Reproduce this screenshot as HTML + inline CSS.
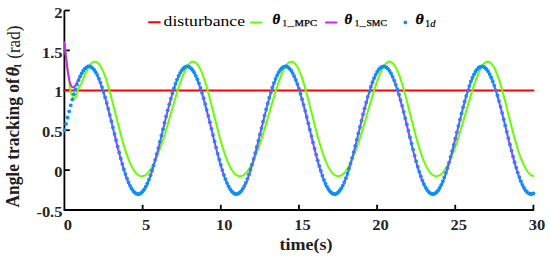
<!DOCTYPE html>
<html><head><meta charset="utf-8"><style>
html,body{margin:0;padding:0;background:#fff;width:550px;height:257px;overflow:hidden}
svg{display:block}
.tl{font-family:"Liberation Serif",serif;font-weight:bold;font-size:15px;fill:#262626}
.al{font-family:"Liberation Serif",serif;font-weight:bold;font-size:16.8px;fill:#202020}
.lg{font-family:"Liberation Serif",serif;font-size:14.5px;fill:#000}
</style></head><body>
<svg width="550" height="257" viewBox="0 0 550 257">
<rect width="550" height="257" fill="#fff"/>
<g stroke="#000" stroke-width="1.8" fill="none">
<polyline points="64.4,10.5 64.4,210 534,210"/>
<line x1="64.5" y1="10.50" x2="69.8" y2="10.50"/><line x1="64.5" y1="50.40" x2="69.8" y2="50.40"/><line x1="64.5" y1="90.30" x2="69.8" y2="90.30"/><line x1="64.5" y1="130.20" x2="69.8" y2="130.20"/><line x1="64.5" y1="170.10" x2="69.8" y2="170.10"/><line x1="142.65" y1="210" x2="142.65" y2="204.8"/><line x1="220.80" y1="210" x2="220.80" y2="204.8"/><line x1="298.95" y1="210" x2="298.95" y2="204.8"/><line x1="377.10" y1="210" x2="377.10" y2="204.8"/><line x1="455.25" y1="210" x2="455.25" y2="204.8"/><line x1="533.40" y1="210" x2="533.40" y2="204.8"/>
</g>
<line x1="64.00" y1="90.50" x2="533.40" y2="90.50" stroke="#ff0000" stroke-width="2" stroke-linecap="round"/>
<path d="M64.50,42.42 L64.81,45.12 L65.13,48.02 L65.44,51.02 L65.75,54.03 L66.06,56.95 L66.38,59.72 L66.69,62.35 L67.00,64.88 L67.31,67.28 L67.63,69.44 L67.94,71.35 L68.25,73.27 L68.56,75.57 L68.88,78.31 L69.19,81.24 L69.50,84.14 L69.81,86.75 L70.13,88.97 L70.44,90.73 L70.75,92.06 L71.06,93.09 L71.38,93.94 L71.69,94.72 L72.00,95.45 L72.31,96.12 L72.63,96.72 L72.94,97.24 L73.25,97.66 L73.57,97.98 L73.88,98.19 L74.19,98.28 L74.50,98.24 L74.82,98.08 L75.13,97.79 L75.44,97.37 L75.75,96.82 L76.07,96.13 L76.38,95.32 L76.69,94.36 L77.00,93.28 L77.32,92.11 L77.63,90.94 L77.94,89.86 L78.25,88.93 L78.57,88.14 L78.88,87.46 L79.19,86.87 L79.50,86.35 L79.82,85.89 L80.13,85.45 L80.44,85.01 L80.76,84.56 L81.07,84.07 L81.38,83.52 L81.69,82.89 L82.01,82.16 L82.32,81.36 L82.63,80.51 L82.94,79.64 L83.26,78.77 L83.57,77.94 L83.88,77.14 L84.19,76.37 L84.51,75.62 L84.82,74.89 L85.13,74.16 L85.44,73.43 L85.76,72.73 L86.07,72.04 L86.38,71.37 L86.69,70.71 L87.01,70.08 L87.32,69.46 L87.63,68.86 L87.94,68.29 L88.26,67.73 L88.57,67.20 L88.88,66.68 L89.20,66.20 L89.51,65.73 L89.82,65.28 L90.13,64.87 L90.45,64.47 L90.76,64.10 L91.07,63.75 L91.38,63.43 L91.70,63.14 L92.01,62.87 L92.32,62.63 L92.63,62.41 L92.95,62.22 L93.26,62.06 L93.57,61.93 L93.88,61.82 L94.20,61.74 L94.51,61.69 L94.82,61.67 L95.13,61.68 L95.45,61.71 L95.76,61.78 L96.07,61.87 L96.39,61.99 L96.70,62.14 L97.01,62.32 L97.32,62.52 L97.64,62.76 L97.95,63.03 L98.26,63.32 L98.57,63.64 L98.89,63.99 L99.20,64.37 L99.51,64.78 L99.82,65.21 L100.14,65.68 L100.45,66.17 L100.76,66.68 L101.07,67.23 L101.39,67.80 L101.70,68.40 L102.01,69.03 L102.32,69.68 L102.64,70.35 L102.95,71.06 L103.26,71.78 L103.58,72.54 L103.89,73.31 L104.20,74.11 L104.51,74.93 L104.83,75.78 L105.14,76.65 L105.45,77.53 L105.76,78.44 L106.08,79.38 L106.39,80.33 L106.70,81.30 L107.01,82.29 L107.33,83.29 L107.64,84.32 L107.95,85.36 L108.26,86.42 L108.58,87.49 L108.89,88.58 L109.20,89.69 L109.51,90.81 L109.83,91.94 L110.14,93.08 L110.45,94.24 L110.76,95.40 L111.08,96.58 L111.39,97.77 L111.70,98.97 L112.02,100.17 L112.33,101.38 L112.64,102.60 L112.95,103.83 L113.27,105.06 L113.58,106.29 L113.89,107.53 L114.20,108.78 L114.52,110.02 L114.83,111.27 L115.14,112.52 L115.45,113.77 L115.77,115.02 L116.08,116.27 L116.39,117.52 L116.70,118.77 L117.02,120.01 L117.33,121.25 L117.64,122.49 L117.95,123.72 L118.27,124.95 L118.58,126.17 L118.89,127.38 L119.21,128.59 L119.52,129.80 L119.83,130.99 L120.14,132.17 L120.46,133.35 L120.77,134.52 L121.08,135.67 L121.39,136.82 L121.71,137.96 L122.02,139.08 L122.33,140.19 L122.64,141.29 L122.96,142.38 L123.27,143.46 L123.58,144.52 L123.89,145.57 L124.21,146.60 L124.52,147.62 L124.83,148.62 L125.14,149.61 L125.46,150.59 L125.77,151.54 L126.08,152.49 L126.39,153.41 L126.71,154.32 L127.02,155.21 L127.33,156.09 L127.65,156.95 L127.96,157.79 L128.27,158.61 L128.58,159.42 L128.90,160.20 L129.21,160.97 L129.52,161.72 L129.83,162.46 L130.15,163.17 L130.46,163.87 L130.77,164.54 L131.08,165.20 L131.40,165.84 L131.71,166.46 L132.02,167.06 L132.33,167.64 L132.65,168.20 L132.96,168.75 L133.27,169.27 L133.58,169.78 L133.90,170.26 L134.21,170.73 L134.52,171.18 L134.84,171.60 L135.15,172.01 L135.46,172.40 L135.77,172.77 L136.09,173.12 L136.40,173.45 L136.71,173.76 L137.02,174.05 L137.34,174.33 L137.65,174.58 L137.96,174.82 L138.27,175.03 L138.59,175.23 L138.90,175.41 L139.21,175.57 L139.52,175.71 L139.84,175.83 L140.15,175.93 L140.46,176.02 L140.77,176.09 L141.09,176.13 L141.40,176.16 L141.71,176.17 L142.02,176.17 L142.34,176.14 L142.65,176.10 L142.96,176.04 L143.28,175.96 L143.59,175.86 L143.90,175.75 L144.21,175.61 L144.53,175.46 L144.84,175.30 L145.15,175.11 L145.46,174.91 L145.78,174.69 L146.09,174.46 L146.40,174.20 L146.71,173.94 L147.03,173.65 L147.34,173.35 L147.65,173.03 L147.96,172.69 L148.28,172.34 L148.59,171.97 L148.90,171.59 L149.21,171.19 L149.53,170.77 L149.84,170.34 L150.15,169.90 L150.47,169.43 L150.78,168.96 L151.09,168.46 L151.40,167.95 L151.72,167.43 L152.03,166.89 L152.34,166.34 L152.65,165.77 L152.97,165.19 L153.28,164.60 L153.59,163.99 L153.90,163.36 L154.22,162.72 L154.53,162.07 L154.84,161.41 L155.15,160.73 L155.47,160.04 L155.78,159.33 L156.09,158.61 L156.40,157.88 L156.72,157.14 L157.03,156.38 L157.34,155.61 L157.65,154.83 L157.97,154.04 L158.28,153.24 L158.59,152.42 L158.91,151.59 L159.22,150.75 L159.53,149.90 L159.84,149.04 L160.16,148.17 L160.47,147.29 L160.78,146.39 L161.09,145.49 L161.41,144.58 L161.72,143.66 L162.03,142.73 L162.34,141.79 L162.66,140.84 L162.97,139.88 L163.28,138.91 L163.59,137.94 L163.91,136.95 L164.22,135.96 L164.53,134.96 L164.84,133.96 L165.16,132.95 L165.47,131.93 L165.78,130.90 L166.09,129.87 L166.41,128.83 L166.72,127.79 L167.03,126.74 L167.35,125.69 L167.66,124.63 L167.97,123.57 L168.28,122.50 L168.60,121.43 L168.91,120.36 L169.22,119.29 L169.53,118.21 L169.85,117.13 L170.16,116.05 L170.47,114.96 L170.78,113.88 L171.10,112.79 L171.41,111.71 L171.72,110.62 L172.03,109.54 L172.35,108.45 L172.66,107.37 L172.97,106.29 L173.28,105.21 L173.60,104.13 L173.91,103.06 L174.22,101.99 L174.54,100.92 L174.85,99.86 L175.16,98.80 L175.47,97.75 L175.79,96.70 L176.10,95.66 L176.41,94.63 L176.72,93.60 L177.04,92.58 L177.35,91.57 L177.66,90.57 L177.97,89.57 L178.29,88.59 L178.60,87.61 L178.91,86.65 L179.22,85.69 L179.54,84.75 L179.85,83.82 L180.16,82.90 L180.47,82.00 L180.79,81.10 L181.10,80.23 L181.41,79.36 L181.73,78.51 L182.04,77.68 L182.35,76.86 L182.66,76.06 L182.98,75.28 L183.29,74.51 L183.60,73.76 L183.91,73.03 L184.23,72.32 L184.54,71.62 L184.85,70.95 L185.16,70.30 L185.48,69.66 L185.79,69.05 L186.10,68.46 L186.41,67.89 L186.73,67.35 L187.04,66.83 L187.35,66.33 L187.66,65.85 L187.98,65.40 L188.29,64.97 L188.60,64.57 L188.91,64.19 L189.23,63.83 L189.54,63.51 L189.85,63.21 L190.17,62.93 L190.48,62.68 L190.79,62.46 L191.10,62.27 L191.42,62.10 L191.73,61.96 L192.04,61.85 L192.35,61.76 L192.67,61.71 L192.98,61.68 L193.29,61.68 L193.60,61.71 L193.92,61.77 L194.23,61.86 L194.54,61.97 L194.85,62.12 L195.17,62.29 L195.48,62.49 L195.79,62.72 L196.10,62.98 L196.42,63.27 L196.73,63.59 L197.04,63.93 L197.36,64.31 L197.67,64.71 L197.98,65.14 L198.29,65.60 L198.61,66.09 L198.92,66.60 L199.23,67.14 L199.54,67.71 L199.86,68.30 L200.17,68.93 L200.48,69.57 L200.79,70.25 L201.11,70.94 L201.42,71.67 L201.73,72.41 L202.04,73.19 L202.36,73.98 L202.67,74.80 L202.98,75.64 L203.29,76.51 L203.61,77.39 L203.92,78.30 L204.23,79.23 L204.54,80.17 L204.86,81.14 L205.17,82.13 L205.48,83.13 L205.80,84.15 L206.11,85.19 L206.42,86.25 L206.73,87.32 L207.05,88.41 L207.36,89.51 L207.67,90.63 L207.98,91.76 L208.30,92.90 L208.61,94.05 L208.92,95.22 L209.23,96.39 L209.55,97.58 L209.86,98.77 L210.17,99.98 L210.48,101.19 L210.80,102.41 L211.11,103.63 L211.42,104.86 L211.73,106.10 L212.05,107.33 L212.36,108.58 L212.67,109.82 L212.99,111.07 L213.30,112.32 L213.61,113.57 L213.92,114.82 L214.24,116.07 L214.55,117.32 L214.86,118.57 L215.17,119.81 L215.49,121.05 L215.80,122.29 L216.11,123.52 L216.42,124.75 L216.74,125.97 L217.05,127.19 L217.36,128.40 L217.67,129.60 L217.99,130.80 L218.30,131.99 L218.61,133.16 L218.92,134.33 L219.24,135.49 L219.55,136.64 L219.86,137.78 L220.17,138.90 L220.49,140.02 L220.80,141.12 L221.11,142.21 L221.43,143.29 L221.74,144.35 L222.05,145.40 L222.36,146.44 L222.68,147.46 L222.99,148.46 L223.30,149.46 L223.61,150.43 L223.93,151.39 L224.24,152.34 L224.55,153.27 L224.86,154.18 L225.18,155.07 L225.49,155.95 L225.80,156.81 L226.11,157.65 L226.43,158.48 L226.74,159.29 L227.05,160.08 L227.36,160.85 L227.68,161.60 L227.99,162.34 L228.30,163.06 L228.62,163.76 L228.93,164.44 L229.24,165.10 L229.55,165.74 L229.87,166.36 L230.18,166.97 L230.49,167.55 L230.80,168.12 L231.12,168.66 L231.43,169.19 L231.74,169.70 L232.05,170.19 L232.37,170.66 L232.68,171.11 L232.99,171.54 L233.30,171.95 L233.62,172.34 L233.93,172.71 L234.24,173.07 L234.55,173.40 L234.87,173.71 L235.18,174.01 L235.49,174.29 L235.80,174.54 L236.12,174.78 L236.43,175.00 L236.74,175.20 L237.06,175.38 L237.37,175.54 L237.68,175.69 L237.99,175.81 L238.31,175.92 L238.62,176.01 L238.93,176.08 L239.24,176.13 L239.56,176.16 L239.87,176.17 L240.18,176.17 L240.49,176.15 L240.81,176.11 L241.12,176.05 L241.43,175.97 L241.74,175.88 L242.06,175.77 L242.37,175.64 L242.68,175.49 L242.99,175.33 L243.31,175.14 L243.62,174.94 L243.93,174.73 L244.25,174.50 L244.56,174.25 L244.87,173.98 L245.18,173.70 L245.50,173.40 L245.81,173.08 L246.12,172.75 L246.43,172.40 L246.75,172.03 L247.06,171.65 L247.37,171.25 L247.68,170.84 L248.00,170.41 L248.31,169.97 L248.62,169.51 L248.93,169.03 L249.25,168.54 L249.56,168.04 L249.87,167.52 L250.18,166.98 L250.50,166.43 L250.81,165.87 L251.12,165.29 L251.43,164.69 L251.75,164.08 L252.06,163.46 L252.37,162.83 L252.69,162.18 L253.00,161.51 L253.31,160.84 L253.62,160.15 L253.94,159.44 L254.25,158.73 L254.56,158.00 L254.87,157.26 L255.19,156.50 L255.50,155.74 L255.81,154.96 L256.12,154.17 L256.44,153.36 L256.75,152.55 L257.06,151.72 L257.37,150.89 L257.69,150.04 L258.00,149.18 L258.31,148.31 L258.62,147.43 L258.94,146.54 L259.25,145.64 L259.56,144.73 L259.88,143.81 L260.19,142.88 L260.50,141.94 L260.81,140.99 L261.13,140.03 L261.44,139.07 L261.75,138.09 L262.06,137.11 L262.38,136.12 L262.69,135.12 L263.00,134.12 L263.31,133.11 L263.63,132.09 L263.94,131.06 L264.25,130.03 L264.56,129.00 L264.88,127.96 L265.19,126.91 L265.50,125.86 L265.81,124.80 L266.13,123.74 L266.44,122.67 L266.75,121.61 L267.06,120.53 L267.38,119.46 L267.69,118.38 L268.00,117.30 L268.32,116.22 L268.63,115.14 L268.94,114.05 L269.25,112.97 L269.57,111.88 L269.88,110.80 L270.19,109.71 L270.50,108.63 L270.82,107.54 L271.13,106.46 L271.44,105.38 L271.75,104.30 L272.07,103.23 L272.38,102.16 L272.69,101.09 L273.00,100.03 L273.32,98.97 L273.63,97.92 L273.94,96.87 L274.25,95.83 L274.57,94.79 L274.88,93.76 L275.19,92.74 L275.50,91.73 L275.82,90.72 L276.13,89.73 L276.44,88.74 L276.76,87.77 L277.07,86.80 L277.38,85.84 L277.69,84.90 L278.01,83.97 L278.32,83.05 L278.63,82.14 L278.94,81.24 L279.26,80.36 L279.57,79.50 L279.88,78.65 L280.19,77.81 L280.51,76.99 L280.82,76.19 L281.13,75.40 L281.44,74.63 L281.76,73.88 L282.07,73.14 L282.38,72.43 L282.69,71.73 L283.01,71.06 L283.32,70.40 L283.63,69.76 L283.95,69.15 L284.26,68.56 L284.57,67.98 L284.88,67.43 L285.20,66.91 L285.51,66.40 L285.82,65.92 L286.13,65.47 L286.45,65.04 L286.76,64.63 L287.07,64.25 L287.38,63.89 L287.70,63.56 L288.01,63.25 L288.32,62.97 L288.63,62.72 L288.95,62.49 L289.26,62.30 L289.57,62.12 L289.88,61.98 L290.20,61.86 L290.51,61.78 L290.82,61.72 L291.13,61.68 L291.45,61.68 L291.76,61.70 L292.07,61.76 L292.39,61.84 L292.70,61.95 L293.01,62.09 L293.32,62.26 L293.64,62.46 L293.95,62.68 L294.26,62.94 L294.57,63.22 L294.89,63.54 L295.20,63.88 L295.51,64.25 L295.82,64.65 L296.14,65.07 L296.45,65.53 L296.76,66.01 L297.07,66.52 L297.39,67.05 L297.70,67.62 L298.01,68.21 L298.32,68.82 L298.64,69.47 L298.95,70.14 L299.26,70.83 L299.58,71.55 L299.89,72.29 L300.20,73.06 L300.51,73.85 L300.83,74.67 L301.14,75.51 L301.45,76.37 L301.76,77.25 L302.08,78.15 L302.39,79.08 L302.70,80.02 L303.01,80.99 L303.33,81.97 L303.64,82.97 L303.95,83.99 L304.26,85.03 L304.58,86.08 L304.89,87.15 L305.20,88.24 L305.51,89.34 L305.83,90.45 L306.14,91.58 L306.45,92.72 L306.76,93.87 L307.08,95.03 L307.39,96.21 L307.70,97.39 L308.02,98.58 L308.33,99.79 L308.64,100.99 L308.95,102.21 L309.27,103.44 L309.58,104.66 L309.89,105.90 L310.20,107.14 L310.52,108.38 L310.83,109.62 L311.14,110.87 L311.45,112.12 L311.77,113.37 L312.08,114.62 L312.39,115.87 L312.70,117.12 L313.02,118.37 L313.33,119.61 L313.64,120.86 L313.95,122.09 L314.27,123.33 L314.58,124.56 L314.89,125.78 L315.21,127.00 L315.52,128.21 L315.83,129.41 L316.14,130.61 L316.46,131.80 L316.77,132.98 L317.08,134.15 L317.39,135.31 L317.71,136.46 L318.02,137.60 L318.33,138.72 L318.64,139.84 L318.96,140.95 L319.27,142.04 L319.58,143.12 L319.89,144.18 L320.21,145.23 L320.52,146.27 L320.83,147.30 L321.14,148.31 L321.46,149.30 L321.77,150.28 L322.08,151.24 L322.40,152.19 L322.71,153.12 L323.02,154.03 L323.33,154.93 L323.65,155.81 L323.96,156.67 L324.27,157.52 L324.58,158.35 L324.90,159.16 L325.21,159.95 L325.52,160.73 L325.83,161.49 L326.15,162.22 L326.46,162.94 L326.77,163.65 L327.08,164.33 L327.40,164.99 L327.71,165.64 L328.02,166.26 L328.33,166.87 L328.65,167.46 L328.96,168.03 L329.27,168.58 L329.58,169.11 L329.90,169.62 L330.21,170.11 L330.52,170.58 L330.84,171.03 L331.15,171.47 L331.46,171.88 L331.77,172.28 L332.09,172.65 L332.40,173.01 L332.71,173.35 L333.02,173.67 L333.34,173.96 L333.65,174.24 L333.96,174.50 L334.27,174.75 L334.59,174.97 L334.90,175.17 L335.21,175.35 L335.52,175.52 L335.84,175.67 L336.15,175.79 L336.46,175.90 L336.77,175.99 L337.09,176.07 L337.40,176.12 L337.71,176.16 L338.03,176.17 L338.34,176.17 L338.65,176.15 L338.96,176.11 L339.28,176.06 L339.59,175.98 L339.90,175.89 L340.21,175.78 L340.53,175.66 L340.84,175.51 L341.15,175.35 L341.46,175.17 L341.78,174.98 L342.09,174.76 L342.40,174.53 L342.71,174.29 L343.03,174.02 L343.34,173.74 L343.65,173.45 L343.96,173.13 L344.28,172.80 L344.59,172.45 L344.90,172.09 L345.21,171.71 L345.53,171.32 L345.84,170.91 L346.15,170.48 L346.47,170.04 L346.78,169.58 L347.09,169.11 L347.40,168.62 L347.72,168.12 L348.03,167.60 L348.34,167.07 L348.65,166.52 L348.97,165.96 L349.28,165.38 L349.59,164.79 L349.90,164.18 L350.22,163.56 L350.53,162.93 L350.84,162.28 L351.15,161.62 L351.47,160.95 L351.78,160.26 L352.09,159.56 L352.40,158.84 L352.72,158.12 L353.03,157.38 L353.34,156.62 L353.66,155.86 L353.97,155.08 L354.28,154.29 L354.59,153.49 L354.91,152.68 L355.22,151.86 L355.53,151.02 L355.84,150.17 L356.16,149.32 L356.47,148.45 L356.78,147.57 L357.09,146.68 L357.41,145.78 L357.72,144.87 L358.03,143.95 L358.34,143.02 L358.66,142.09 L358.97,141.14 L359.28,140.18 L359.59,139.22 L359.91,138.25 L360.22,137.27 L360.53,136.28 L360.84,135.28 L361.16,134.28 L361.47,133.27 L361.78,132.25 L362.10,131.23 L362.41,130.20 L362.72,129.16 L363.03,128.12 L363.35,127.08 L363.66,126.02 L363.97,124.97 L364.28,123.91 L364.60,122.84 L364.91,121.78 L365.22,120.70 L365.53,119.63 L365.85,118.55 L366.16,117.47 L366.47,116.39 L366.78,115.31 L367.10,114.22 L367.41,113.14 L367.72,112.05 L368.03,110.97 L368.35,109.88 L368.66,108.80 L368.97,107.71 L369.29,106.63 L369.60,105.55 L369.91,104.48 L370.22,103.40 L370.54,102.33 L370.85,101.26 L371.16,100.20 L371.47,99.14 L371.79,98.08 L372.10,97.04 L372.41,95.99 L372.72,94.96 L373.04,93.93 L373.35,92.90 L373.66,91.89 L373.97,90.88 L374.29,89.89 L374.60,88.90 L374.91,87.92 L375.22,86.95 L375.54,85.99 L375.85,85.05 L376.16,84.11 L376.47,83.19 L376.79,82.28 L377.10,81.39 L377.41,80.50 L377.73,79.64 L378.04,78.78 L378.35,77.94 L378.66,77.12 L378.98,76.31 L379.29,75.52 L379.60,74.75 L379.91,74.00 L380.23,73.26 L380.54,72.54 L380.85,71.84 L381.16,71.16 L381.48,70.50 L381.79,69.86 L382.10,69.25 L382.41,68.65 L382.73,68.07 L383.04,67.52 L383.35,66.99 L383.66,66.48 L383.98,66.00 L384.29,65.54 L384.60,65.10 L384.92,64.69 L385.23,64.31 L385.54,63.94 L385.85,63.61 L386.17,63.30 L386.48,63.02 L386.79,62.76 L387.10,62.53 L387.42,62.33 L387.73,62.15 L388.04,62.00 L388.35,61.88 L388.67,61.79 L388.98,61.72 L389.29,61.69 L389.60,61.68 L389.92,61.70 L390.23,61.75 L390.54,61.83 L390.85,61.93 L391.17,62.07 L391.48,62.23 L391.79,62.42 L392.10,62.65 L392.42,62.90 L392.73,63.18 L393.04,63.49 L393.36,63.82 L393.67,64.19 L393.98,64.58 L394.29,65.00 L394.61,65.45 L394.92,65.93 L395.23,66.43 L395.54,66.97 L395.86,67.53 L396.17,68.11 L396.48,68.72 L396.79,69.36 L397.11,70.03 L397.42,70.72 L397.73,71.43 L398.04,72.17 L398.36,72.94 L398.67,73.73 L398.98,74.54 L399.29,75.37 L399.61,76.23 L399.92,77.11 L400.23,78.01 L400.55,78.93 L400.86,79.87 L401.17,80.83 L401.48,81.81 L401.80,82.81 L402.11,83.83 L402.42,84.86 L402.73,85.91 L403.05,86.98 L403.36,88.06 L403.67,89.16 L403.98,90.27 L404.30,91.40 L404.61,92.53 L404.92,93.68 L405.23,94.85 L405.55,96.02 L405.86,97.20 L406.17,98.39 L406.48,99.59 L406.80,100.80 L407.11,102.02 L407.42,103.24 L407.73,104.47 L408.05,105.70 L408.36,106.94 L408.67,108.18 L408.99,109.43 L409.30,110.67 L409.61,111.92 L409.92,113.17 L410.24,114.42 L410.55,115.67 L410.86,116.92 L411.17,118.17 L411.49,119.42 L411.80,120.66 L412.11,121.90 L412.42,123.13 L412.74,124.36 L413.05,125.59 L413.36,126.80 L413.67,128.02 L413.99,129.22 L414.30,130.42 L414.61,131.61 L414.92,132.79 L415.24,133.96 L415.55,135.12 L415.86,136.27 L416.18,137.42 L416.49,138.55 L416.80,139.66 L417.11,140.77 L417.43,141.86 L417.74,142.95 L418.05,144.01 L418.36,145.07 L418.68,146.11 L418.99,147.13 L419.30,148.15 L419.61,149.14 L419.93,150.12 L420.24,151.09 L420.55,152.04 L420.86,152.97 L421.18,153.89 L421.49,154.79 L421.80,155.67 L422.11,156.54 L422.43,157.39 L422.74,158.22 L423.05,159.03 L423.36,159.83 L423.68,160.61 L423.99,161.37 L424.30,162.11 L424.62,162.83 L424.93,163.54 L425.24,164.22 L425.55,164.89 L425.87,165.54 L426.18,166.16 L426.49,166.77 L426.80,167.37 L427.12,167.94 L427.43,168.49 L427.74,169.02 L428.05,169.54 L428.37,170.03 L428.68,170.51 L428.99,170.96 L429.30,171.40 L429.62,171.82 L429.93,172.22 L430.24,172.60 L430.55,172.95 L430.87,173.29 L431.18,173.62 L431.49,173.92 L431.81,174.20 L432.12,174.46 L432.43,174.71 L432.74,174.93 L433.06,175.14 L433.37,175.33 L433.68,175.50 L433.99,175.64 L434.31,175.78 L434.62,175.89 L434.93,175.98 L435.24,176.06 L435.56,176.11 L435.87,176.15 L436.18,176.17 L436.49,176.17 L436.81,176.16 L437.12,176.12 L437.43,176.07 L437.74,176.00 L438.06,175.91 L438.37,175.80 L438.68,175.68 L438.99,175.54 L439.31,175.38 L439.62,175.20 L439.93,175.01 L440.25,174.80 L440.56,174.57 L440.87,174.33 L441.18,174.07 L441.50,173.79 L441.81,173.49 L442.12,173.18 L442.43,172.85 L442.75,172.51 L443.06,172.15 L443.37,171.77 L443.68,171.38 L444.00,170.97 L444.31,170.55 L444.62,170.11 L444.93,169.66 L445.25,169.19 L445.56,168.70 L445.87,168.20 L446.18,167.68 L446.50,167.15 L446.81,166.61 L447.12,166.05 L447.44,165.47 L447.75,164.88 L448.06,164.28 L448.37,163.66 L448.69,163.03 L449.00,162.39 L449.31,161.73 L449.62,161.05 L449.94,160.37 L450.25,159.67 L450.56,158.96 L450.87,158.23 L451.19,157.50 L451.50,156.74 L451.81,155.98 L452.12,155.21 L452.44,154.42 L452.75,153.62 L453.06,152.81 L453.37,151.99 L453.69,151.15 L454.00,150.31 L454.31,149.45 L454.62,148.59 L454.94,147.71 L455.25,146.82 L455.56,145.92 L455.88,145.02 L456.19,144.10 L456.50,143.17 L456.81,142.24 L457.13,141.29 L457.44,140.34 L457.75,139.37 L458.06,138.40 L458.38,137.42 L458.69,136.44 L459.00,135.44 L459.31,134.44 L459.63,133.43 L459.94,132.41 L460.25,131.39 L460.56,130.36 L460.88,129.33 L461.19,128.29 L461.50,127.24 L461.81,126.19 L462.13,125.14 L462.44,124.08 L462.75,123.01 L463.06,121.95 L463.38,120.88 L463.69,119.80 L464.00,118.72 L464.32,117.65 L464.63,116.56 L464.94,115.48 L465.25,114.40 L465.57,113.31 L465.88,112.23 L466.19,111.14 L466.50,110.06 L466.82,108.97 L467.13,107.89 L467.44,106.81 L467.75,105.72 L468.07,104.65 L468.38,103.57 L468.69,102.50 L469.00,101.43 L469.32,100.37 L469.63,99.31 L469.94,98.25 L470.25,97.20 L470.57,96.16 L470.88,95.12 L471.19,94.09 L471.51,93.07 L471.82,92.05 L472.13,91.04 L472.44,90.04 L472.76,89.06 L473.07,88.08 L473.38,87.11 L473.69,86.15 L474.01,85.20 L474.32,84.26 L474.63,83.34 L474.94,82.43 L475.26,81.53 L475.57,80.64 L475.88,79.77 L476.19,78.92 L476.51,78.08 L476.82,77.25 L477.13,76.44 L477.44,75.65 L477.76,74.87 L478.07,74.12 L478.38,73.38 L478.69,72.65 L479.01,71.95 L479.32,71.27 L479.63,70.61 L479.95,69.96 L480.26,69.34 L480.57,68.74 L480.88,68.16 L481.20,67.61 L481.51,67.07 L481.82,66.56 L482.13,66.07 L482.45,65.61 L482.76,65.17 L483.07,64.76 L483.38,64.37 L483.70,64.00 L484.01,63.66 L484.32,63.35 L484.63,63.06 L484.95,62.80 L485.26,62.56 L485.57,62.36 L485.88,62.18 L486.20,62.02 L486.51,61.90 L486.82,61.80 L487.14,61.73 L487.45,61.69 L487.76,61.68 L488.07,61.69 L488.39,61.74 L488.70,61.81 L489.01,61.91 L489.32,62.04 L489.64,62.20 L489.95,62.39 L490.26,62.61 L490.57,62.86 L490.89,63.13 L491.20,63.43 L491.51,63.77 L491.82,64.13 L492.14,64.52 L492.45,64.93 L492.76,65.38 L493.07,65.85 L493.39,66.35 L493.70,66.88 L494.01,67.43 L494.33,68.02 L494.64,68.63 L494.95,69.26 L495.26,69.92 L495.58,70.61 L495.89,71.32 L496.20,72.05 L496.51,72.81 L496.83,73.60 L497.14,74.41 L497.45,75.24 L497.76,76.09 L498.08,76.97 L498.39,77.86 L498.70,78.78 L499.01,79.72 L499.33,80.68 L499.64,81.65 L499.95,82.65 L500.26,83.66 L500.58,84.69 L500.89,85.74 L501.20,86.81 L501.51,87.89 L501.83,88.98 L502.14,90.09 L502.45,91.22 L502.77,92.35 L503.08,93.50 L503.39,94.66 L503.70,95.83 L504.02,97.01 L504.33,98.20 L504.64,99.40 L504.95,100.61 L505.27,101.82 L505.58,103.04 L505.89,104.27 L506.20,105.51 L506.52,106.74 L506.83,107.98 L507.14,109.23 L507.45,110.47 L507.77,111.72 L508.08,112.97 L508.39,114.22 L508.70,115.47 L509.02,116.72 L509.33,117.97 L509.64,119.22 L509.96,120.46 L510.27,121.70 L510.58,122.93 L510.89,124.17 L511.21,125.39 L511.52,126.61 L511.83,127.82 L512.14,129.03 L512.46,130.23 L512.77,131.42 L513.08,132.60 L513.39,133.78 L513.71,134.94 L514.02,136.09 L514.33,137.23 L514.64,138.37 L514.96,139.49 L515.27,140.60 L515.58,141.69 L515.89,142.77 L516.21,143.84 L516.52,144.90 L516.83,145.94 L517.14,146.97 L517.46,147.99 L517.77,148.98 L518.08,149.97 L518.40,150.94 L518.71,151.89 L519.02,152.82 L519.33,153.74 L519.65,154.65 L519.96,155.53 L520.27,156.40 L520.58,157.25 L520.90,158.09 L521.21,158.90 L521.52,159.70 L521.83,160.48 L522.15,161.25 L522.46,161.99 L522.77,162.72 L523.08,163.42 L523.40,164.11 L523.71,164.78 L524.02,165.43 L524.33,166.07 L524.65,166.68 L524.96,167.27 L525.27,167.85 L525.59,168.40 L525.90,168.94 L526.21,169.46 L526.52,169.95 L526.84,170.43 L527.15,170.89 L527.46,171.33 L527.77,171.75 L528.09,172.15 L528.40,172.54 L528.71,172.90 L529.02,173.24 L529.34,173.57 L529.65,173.87 L529.96,174.16 L530.27,174.42 L530.59,174.67 L530.90,174.90 L531.21,175.11 L531.52,175.30 L531.84,175.47 L532.15,175.62 L532.46,175.76 L532.77,175.87 L533.09,175.97 L533.40,176.05" fill="none" stroke="#66ff00" stroke-width="2" stroke-linejoin="round" stroke-linecap="round"/>
<path d="M64.50,42.42 L64.81,45.70 L65.13,48.91 L65.44,52.01 L65.75,55.02 L66.06,57.91 L66.38,60.67 L66.69,63.31 L67.00,65.82 L67.31,68.18 L67.63,70.40 L67.94,72.48 L68.25,74.41 L68.56,76.19 L68.88,77.82 L69.19,79.31 L69.50,80.66 L69.81,81.87 L70.13,82.94 L70.44,83.88 L70.75,84.69 L71.06,85.38 L71.38,85.95 L71.69,86.41 L72.00,86.76 L72.31,87.01 L72.63,87.16 L72.94,87.23 L73.25,87.21 L73.57,87.12 L73.88,86.96 L74.19,86.73 L74.50,86.45 L74.82,86.11 L75.13,85.72 L75.44,85.29 L75.75,84.82 L76.07,84.32 L76.38,83.79 L76.69,83.24 L77.00,82.66 L77.32,82.07 L77.63,81.47 L77.94,80.86 L78.25,80.24 L78.57,79.61 L78.88,78.99 L79.19,78.36 L79.50,77.74 L79.82,77.13 L80.13,76.52 L80.44,75.93 L80.76,75.34 L81.07,74.77 L81.38,74.21 L81.69,73.67 L82.01,73.14 L82.32,72.63 L82.63,72.14 L82.94,71.67 L83.26,71.21 L83.57,70.78 L83.88,70.37 L84.19,69.98 L84.51,69.62 L84.82,69.27 L85.13,68.95 L85.44,68.65 L85.76,68.38 L86.07,68.13 L86.38,67.91 L86.69,67.71 L87.01,67.53 L87.32,67.38 L87.63,67.25 L87.94,67.15 L88.26,67.07 L88.57,67.02 L88.88,67.00 L89.20,67.00 L89.51,67.02 L89.82,67.07 L90.13,67.15 L90.45,67.25 L90.76,67.38 L91.07,67.53 L91.38,67.71 L91.70,67.91 L92.01,68.14 L92.32,68.39 L92.63,68.67 L92.95,68.97 L93.26,69.30 L93.57,69.65 L93.88,70.03 L94.20,70.43 L94.51,70.85 L94.82,71.30 L95.13,71.77 L95.45,72.27 L95.76,72.79 L96.07,73.33 L96.39,73.90 L96.70,74.49 L97.01,75.10 L97.32,75.73 L97.64,76.39 L97.95,77.06 L98.26,77.76 L98.57,78.48 L98.89,79.22 L99.20,79.99 L99.51,80.77 L99.82,81.57 L100.14,82.39 L100.45,83.23 L100.76,84.09 L101.07,84.97 L101.39,85.87 L101.70,86.78 L102.01,87.72 L102.32,88.67 L102.64,89.63 L102.95,90.62 L103.26,91.62 L103.58,92.63 L103.89,93.66 L104.20,94.71 L104.51,95.77 L104.83,96.84 L105.14,97.93 L105.45,99.03 L105.76,100.14 L106.08,101.27 L106.39,102.41 L106.70,103.55 L107.01,104.71 L107.33,105.88 L107.64,107.06 L107.95,108.25 L108.26,109.45 L108.58,110.66 L108.89,111.88 L109.20,113.10 L109.51,114.33 L109.83,115.56 L110.14,116.81 L110.45,118.06 L110.76,119.31 L111.08,120.57 L111.39,121.83 L111.70,123.10 L112.02,124.36 L112.33,125.64 L112.64,126.91 L112.95,128.18 L113.27,129.46 L113.58,130.74 L113.89,132.01 L114.20,133.29 L114.52,134.57 L114.83,135.84 L115.14,137.11 L115.45,138.38 L115.77,139.65 L116.08,140.91 L116.39,142.17 L116.70,143.42 L117.02,144.67 L117.33,145.91 L117.64,147.15 L117.95,148.38 L118.27,149.61 L118.58,150.82 L118.89,152.03 L119.21,153.23 L119.52,154.42 L119.83,155.61 L120.14,156.78 L120.46,157.94 L120.77,159.09 L121.08,160.23 L121.39,161.36 L121.71,162.47 L122.02,163.57 L122.33,164.66 L122.64,165.74 L122.96,166.80 L123.27,167.85 L123.58,168.88 L123.89,169.90 L124.21,170.90 L124.52,171.89 L124.83,172.86 L125.14,173.81 L125.46,174.75 L125.77,175.66 L126.08,176.56 L126.39,177.45 L126.71,178.31 L127.02,179.15 L127.33,179.98 L127.65,180.78 L127.96,181.57 L128.27,182.33 L128.58,183.08 L128.90,183.80 L129.21,184.50 L129.52,185.18 L129.83,185.84 L130.15,186.48 L130.46,187.09 L130.77,187.69 L131.08,188.26 L131.40,188.80 L131.71,189.33 L132.02,189.83 L132.33,190.30 L132.65,190.76 L132.96,191.18 L133.27,191.59 L133.58,191.97 L133.90,192.32 L134.21,192.66 L134.52,192.96 L134.84,193.24 L135.15,193.50 L135.46,193.73 L135.77,193.94 L136.09,194.12 L136.40,194.28 L136.71,194.41 L137.02,194.51 L137.34,194.59 L137.65,194.64 L137.96,194.67 L138.27,194.68 L138.59,194.65 L138.90,194.61 L139.21,194.53 L139.52,194.43 L139.84,194.31 L140.15,194.16 L140.46,193.98 L140.77,193.78 L141.09,193.56 L141.40,193.31 L141.71,193.03 L142.02,192.73 L142.34,192.41 L142.65,192.06 L142.96,191.68 L143.28,191.28 L143.59,190.86 L143.90,190.41 L144.21,189.94 L144.53,189.45 L144.84,188.93 L145.15,188.39 L145.46,187.83 L145.78,187.24 L146.09,186.63 L146.40,186.00 L146.71,185.34 L147.03,184.67 L147.34,183.97 L147.65,183.25 L147.96,182.51 L148.28,181.75 L148.59,180.97 L148.90,180.17 L149.21,179.35 L149.53,178.51 L149.84,177.65 L150.15,176.78 L150.47,175.88 L150.78,174.97 L151.09,174.03 L151.40,173.09 L151.72,172.12 L152.03,171.14 L152.34,170.14 L152.65,169.13 L152.97,168.10 L153.28,167.05 L153.59,165.99 L153.90,164.92 L154.22,163.84 L154.53,162.74 L154.84,161.62 L155.15,160.50 L155.47,159.36 L155.78,158.21 L156.09,157.06 L156.40,155.89 L156.72,154.71 L157.03,153.52 L157.34,152.32 L157.65,151.11 L157.97,149.90 L158.28,148.68 L158.59,147.45 L158.91,146.21 L159.22,144.97 L159.53,143.72 L159.84,142.47 L160.16,141.21 L160.47,139.95 L160.78,138.68 L161.09,137.41 L161.41,136.14 L161.72,134.87 L162.03,133.59 L162.34,132.32 L162.66,131.04 L162.97,129.77 L163.28,128.49 L163.59,127.21 L163.91,125.94 L164.22,124.67 L164.53,123.40 L164.84,122.13 L165.16,120.87 L165.47,119.61 L165.78,118.35 L166.09,117.11 L166.41,115.86 L166.72,114.62 L167.03,113.39 L167.35,112.17 L167.66,110.95 L167.97,109.74 L168.28,108.54 L168.60,107.35 L168.91,106.17 L169.22,104.99 L169.53,103.83 L169.85,102.68 L170.16,101.54 L170.47,100.41 L170.78,99.29 L171.10,98.19 L171.41,97.10 L171.72,96.02 L172.03,94.96 L172.35,93.91 L172.66,92.88 L172.97,91.86 L173.28,90.85 L173.60,89.87 L173.91,88.90 L174.22,87.94 L174.54,87.01 L174.85,86.09 L175.16,85.18 L175.47,84.30 L175.79,83.44 L176.10,82.59 L176.41,81.76 L176.72,80.96 L177.04,80.17 L177.35,79.40 L177.66,78.66 L177.97,77.93 L178.29,77.23 L178.60,76.55 L178.91,75.89 L179.22,75.25 L179.54,74.63 L179.85,74.04 L180.16,73.46 L180.47,72.92 L180.79,72.39 L181.10,71.89 L181.41,71.41 L181.73,70.96 L182.04,70.53 L182.35,70.12 L182.66,69.74 L182.98,69.38 L183.29,69.05 L183.60,68.74 L183.91,68.45 L184.23,68.20 L184.54,67.96 L184.85,67.75 L185.16,67.57 L185.48,67.41 L185.79,67.28 L186.10,67.17 L186.41,67.09 L186.73,67.04 L187.04,67.00 L187.35,67.00 L187.66,67.02 L187.98,67.07 L188.29,67.14 L188.60,67.23 L188.91,67.36 L189.23,67.50 L189.54,67.68 L189.85,67.88 L190.17,68.10 L190.48,68.35 L190.79,68.62 L191.10,68.92 L191.42,69.24 L191.73,69.59 L192.04,69.96 L192.35,70.36 L192.67,70.78 L192.98,71.23 L193.29,71.70 L193.60,72.19 L193.92,72.70 L194.23,73.24 L194.54,73.81 L194.85,74.39 L195.17,75.00 L195.48,75.63 L195.79,76.28 L196.10,76.95 L196.42,77.65 L196.73,78.37 L197.04,79.10 L197.36,79.86 L197.67,80.64 L197.98,81.44 L198.29,82.26 L198.61,83.10 L198.92,83.95 L199.23,84.83 L199.54,85.72 L199.86,86.64 L200.17,87.57 L200.48,88.51 L200.79,89.48 L201.11,90.46 L201.42,91.46 L201.73,92.47 L202.04,93.50 L202.36,94.54 L202.67,95.60 L202.98,96.67 L203.29,97.75 L203.61,98.85 L203.92,99.96 L204.23,101.09 L204.54,102.22 L204.86,103.37 L205.17,104.53 L205.48,105.70 L205.80,106.88 L206.11,108.06 L206.42,109.26 L206.73,110.47 L207.05,111.68 L207.36,112.90 L207.67,114.13 L207.98,115.37 L208.30,116.61 L208.61,117.86 L208.92,119.11 L209.23,120.37 L209.55,121.63 L209.86,122.89 L210.17,124.16 L210.48,125.43 L210.80,126.71 L211.11,127.98 L211.42,129.26 L211.73,130.53 L212.05,131.81 L212.36,133.09 L212.67,134.36 L212.99,135.64 L213.30,136.91 L213.61,138.18 L213.92,139.44 L214.24,140.71 L214.55,141.97 L214.86,143.22 L215.17,144.47 L215.49,145.72 L215.80,146.96 L216.11,148.19 L216.42,149.41 L216.74,150.63 L217.05,151.84 L217.36,153.04 L217.67,154.23 L217.99,155.42 L218.30,156.59 L218.61,157.75 L218.92,158.91 L219.24,160.05 L219.55,161.18 L219.86,162.29 L220.17,163.40 L220.49,164.49 L220.80,165.57 L221.11,166.63 L221.43,167.68 L221.74,168.72 L222.05,169.74 L222.36,170.74 L222.68,171.73 L222.99,172.70 L223.30,173.66 L223.61,174.60 L223.93,175.52 L224.24,176.42 L224.55,177.31 L224.86,178.17 L225.18,179.02 L225.49,179.85 L225.80,180.66 L226.11,181.44 L226.43,182.21 L226.74,182.96 L227.05,183.69 L227.36,184.39 L227.68,185.08 L227.99,185.74 L228.30,186.38 L228.62,187.00 L228.93,187.59 L229.24,188.17 L229.55,188.72 L229.87,189.24 L230.18,189.75 L230.49,190.23 L230.80,190.68 L231.12,191.12 L231.43,191.53 L231.74,191.91 L232.05,192.27 L232.37,192.60 L232.68,192.92 L232.99,193.20 L233.30,193.46 L233.62,193.70 L233.93,193.91 L234.24,194.09 L234.55,194.25 L234.87,194.39 L235.18,194.50 L235.49,194.58 L235.80,194.64 L236.12,194.67 L236.43,194.68 L236.74,194.66 L237.06,194.62 L237.37,194.55 L237.68,194.45 L237.99,194.33 L238.31,194.18 L238.62,194.01 L238.93,193.82 L239.24,193.60 L239.56,193.35 L239.87,193.08 L240.18,192.78 L240.49,192.46 L240.81,192.11 L241.12,191.74 L241.43,191.35 L241.74,190.93 L242.06,190.49 L242.37,190.02 L242.68,189.53 L242.99,189.01 L243.31,188.48 L243.62,187.92 L243.93,187.33 L244.25,186.73 L244.56,186.10 L244.87,185.45 L245.18,184.78 L245.50,184.08 L245.81,183.37 L246.12,182.63 L246.43,181.87 L246.75,181.10 L247.06,180.30 L247.37,179.48 L247.68,178.65 L248.00,177.79 L248.31,176.92 L248.62,176.02 L248.93,175.11 L249.25,174.18 L249.56,173.24 L249.87,172.28 L250.18,171.30 L250.50,170.30 L250.81,169.29 L251.12,168.26 L251.43,167.22 L251.75,166.16 L252.06,165.09 L252.37,164.01 L252.69,162.91 L253.00,161.80 L253.31,160.68 L253.62,159.54 L253.94,158.40 L254.25,157.24 L254.56,156.07 L254.87,154.90 L255.19,153.71 L255.50,152.51 L255.81,151.31 L256.12,150.09 L256.44,148.87 L256.75,147.64 L257.06,146.41 L257.37,145.17 L257.69,143.92 L258.00,142.67 L258.31,141.41 L258.62,140.15 L258.94,138.88 L259.25,137.62 L259.56,136.35 L259.88,135.07 L260.19,133.80 L260.50,132.52 L260.81,131.25 L261.13,129.97 L261.44,128.69 L261.75,127.42 L262.06,126.14 L262.38,124.87 L262.69,123.60 L263.00,122.33 L263.31,121.07 L263.63,119.81 L263.94,118.55 L264.25,117.30 L264.56,116.06 L264.88,114.82 L265.19,113.59 L265.50,112.36 L265.81,111.14 L266.13,109.93 L266.44,108.73 L266.75,107.54 L267.06,106.35 L267.38,105.18 L267.69,104.01 L268.00,102.86 L268.32,101.72 L268.63,100.59 L268.94,99.47 L269.25,98.37 L269.57,97.27 L269.88,96.19 L270.19,95.13 L270.50,94.08 L270.82,93.04 L271.13,92.02 L271.44,91.01 L271.75,90.02 L272.07,89.05 L272.38,88.09 L272.69,87.15 L273.00,86.23 L273.32,85.33 L273.63,84.44 L273.94,83.57 L274.25,82.72 L274.57,81.89 L274.88,81.08 L275.19,80.29 L275.50,79.52 L275.82,78.78 L276.13,78.05 L276.44,77.34 L276.76,76.65 L277.07,75.99 L277.38,75.35 L277.69,74.73 L278.01,74.13 L278.32,73.55 L278.63,73.00 L278.94,72.47 L279.26,71.97 L279.57,71.49 L279.88,71.03 L280.19,70.59 L280.51,70.18 L280.82,69.80 L281.13,69.43 L281.44,69.10 L281.76,68.79 L282.07,68.50 L282.38,68.24 L282.69,68.00 L283.01,67.79 L283.32,67.60 L283.63,67.44 L283.95,67.30 L284.26,67.19 L284.57,67.10 L284.88,67.04 L285.20,67.01 L285.51,67.00 L285.82,67.02 L286.13,67.06 L286.45,67.12 L286.76,67.22 L287.07,67.34 L287.38,67.48 L287.70,67.65 L288.01,67.84 L288.32,68.06 L288.63,68.31 L288.95,68.58 L289.26,68.87 L289.57,69.19 L289.88,69.53 L290.20,69.90 L290.51,70.30 L290.82,70.71 L291.13,71.15 L291.45,71.62 L291.76,72.11 L292.07,72.62 L292.39,73.16 L292.70,73.71 L293.01,74.30 L293.32,74.90 L293.64,75.53 L293.95,76.18 L294.26,76.85 L294.57,77.54 L294.89,78.25 L295.20,78.99 L295.51,79.74 L295.82,80.52 L296.14,81.31 L296.45,82.13 L296.76,82.96 L297.07,83.82 L297.39,84.69 L297.70,85.58 L298.01,86.49 L298.32,87.42 L298.64,88.36 L298.95,89.32 L299.26,90.30 L299.58,91.30 L299.89,92.31 L300.20,93.33 L300.51,94.37 L300.83,95.43 L301.14,96.50 L301.45,97.58 L301.76,98.68 L302.08,99.79 L302.39,100.91 L302.70,102.04 L303.01,103.19 L303.33,104.34 L303.64,105.51 L303.95,106.69 L304.26,107.87 L304.58,109.07 L304.89,110.27 L305.20,111.49 L305.51,112.71 L305.83,113.94 L306.14,115.17 L306.45,116.41 L306.76,117.66 L307.08,118.91 L307.39,120.17 L307.70,121.43 L308.02,122.69 L308.33,123.96 L308.64,125.23 L308.95,126.50 L309.27,127.78 L309.58,129.05 L309.89,130.33 L310.20,131.61 L310.52,132.88 L310.83,134.16 L311.14,135.43 L311.45,136.71 L311.77,137.98 L312.08,139.24 L312.39,140.51 L312.70,141.77 L313.02,143.02 L313.33,144.27 L313.64,145.52 L313.95,146.76 L314.27,147.99 L314.58,149.22 L314.89,150.44 L315.21,151.65 L315.52,152.85 L315.83,154.05 L316.14,155.23 L316.46,156.40 L316.77,157.57 L317.08,158.72 L317.39,159.87 L317.71,161.00 L318.02,162.12 L318.33,163.22 L318.64,164.32 L318.96,165.40 L319.27,166.46 L319.58,167.52 L319.89,168.55 L320.21,169.58 L320.52,170.58 L320.83,171.58 L321.14,172.55 L321.46,173.51 L321.77,174.45 L322.08,175.37 L322.40,176.28 L322.71,177.17 L323.02,178.04 L323.33,178.89 L323.65,179.72 L323.96,180.53 L324.27,181.32 L324.58,182.09 L324.90,182.84 L325.21,183.57 L325.52,184.28 L325.83,184.97 L326.15,185.64 L326.46,186.28 L326.77,186.90 L327.08,187.50 L327.40,188.08 L327.71,188.63 L328.02,189.16 L328.33,189.67 L328.65,190.15 L328.96,190.61 L329.27,191.05 L329.58,191.46 L329.90,191.85 L330.21,192.21 L330.52,192.55 L330.84,192.87 L331.15,193.16 L331.46,193.42 L331.77,193.66 L332.09,193.88 L332.40,194.06 L332.71,194.23 L333.02,194.37 L333.34,194.48 L333.65,194.57 L333.96,194.63 L334.27,194.67 L334.59,194.68 L334.90,194.66 L335.21,194.62 L335.52,194.56 L335.84,194.47 L336.15,194.35 L336.46,194.21 L336.77,194.04 L337.09,193.85 L337.40,193.63 L337.71,193.39 L338.03,193.12 L338.34,192.83 L338.65,192.51 L338.96,192.17 L339.28,191.80 L339.59,191.41 L339.90,191.00 L340.21,190.56 L340.53,190.09 L340.84,189.61 L341.15,189.10 L341.46,188.56 L341.78,188.01 L342.09,187.43 L342.40,186.83 L342.71,186.20 L343.03,185.55 L343.34,184.89 L343.65,184.19 L343.96,183.48 L344.28,182.75 L344.59,182.00 L344.90,181.22 L345.21,180.43 L345.53,179.61 L345.84,178.78 L346.15,177.93 L346.47,177.06 L346.78,176.17 L347.09,175.26 L347.40,174.33 L347.72,173.39 L348.03,172.43 L348.34,171.45 L348.65,170.46 L348.97,169.45 L349.28,168.43 L349.59,167.39 L349.90,166.33 L350.22,165.26 L350.53,164.18 L350.84,163.09 L351.15,161.98 L351.47,160.86 L351.78,159.73 L352.09,158.58 L352.40,157.43 L352.72,156.26 L353.03,155.08 L353.34,153.90 L353.66,152.70 L353.97,151.50 L354.28,150.29 L354.59,149.07 L354.91,147.84 L355.22,146.61 L355.53,145.36 L355.84,144.12 L356.16,142.87 L356.47,141.61 L356.78,140.35 L357.09,139.09 L357.41,137.82 L357.72,136.55 L358.03,135.28 L358.34,134.00 L358.66,132.72 L358.97,131.45 L359.28,130.17 L359.59,128.90 L359.91,127.62 L360.22,126.34 L360.53,125.07 L360.84,123.80 L361.16,122.53 L361.47,121.27 L361.78,120.01 L362.10,118.75 L362.41,117.50 L362.72,116.26 L363.03,115.02 L363.35,113.78 L363.66,112.56 L363.97,111.34 L364.28,110.12 L364.60,108.92 L364.91,107.73 L365.22,106.54 L365.53,105.37 L365.85,104.20 L366.16,103.04 L366.47,101.90 L366.78,100.77 L367.10,99.65 L367.41,98.54 L367.72,97.45 L368.03,96.36 L368.35,95.30 L368.66,94.24 L368.97,93.20 L369.29,92.18 L369.60,91.17 L369.91,90.18 L370.22,89.20 L370.54,88.24 L370.85,87.30 L371.16,86.38 L371.47,85.47 L371.79,84.58 L372.10,83.71 L372.41,82.86 L372.72,82.03 L373.04,81.21 L373.35,80.42 L373.66,79.65 L373.97,78.89 L374.29,78.16 L374.60,77.45 L374.91,76.76 L375.22,76.09 L375.54,75.45 L375.85,74.82 L376.16,74.22 L376.47,73.64 L376.79,73.09 L377.10,72.56 L377.41,72.05 L377.73,71.56 L378.04,71.10 L378.35,70.66 L378.66,70.25 L378.98,69.86 L379.29,69.49 L379.60,69.15 L379.91,68.83 L380.23,68.54 L380.54,68.28 L380.85,68.03 L381.16,67.82 L381.48,67.63 L381.79,67.46 L382.10,67.32 L382.41,67.20 L382.73,67.11 L383.04,67.05 L383.35,67.01 L383.66,67.00 L383.98,67.01 L384.29,67.05 L384.60,67.11 L384.92,67.20 L385.23,67.32 L385.54,67.45 L385.85,67.62 L386.17,67.81 L386.48,68.03 L386.79,68.27 L387.10,68.53 L387.42,68.82 L387.73,69.14 L388.04,69.48 L388.35,69.84 L388.67,70.23 L388.98,70.65 L389.29,71.08 L389.60,71.54 L389.92,72.03 L390.23,72.54 L390.54,73.07 L390.85,73.62 L391.17,74.20 L391.48,74.80 L391.79,75.43 L392.10,76.07 L392.42,76.74 L392.73,77.43 L393.04,78.14 L393.36,78.87 L393.67,79.62 L393.98,80.39 L394.29,81.18 L394.61,82.00 L394.92,82.83 L395.23,83.68 L395.54,84.55 L395.86,85.44 L396.17,86.34 L396.48,87.27 L396.79,88.21 L397.11,89.17 L397.42,90.15 L397.73,91.14 L398.04,92.14 L398.36,93.17 L398.67,94.21 L398.98,95.26 L399.29,96.33 L399.61,97.41 L399.92,98.50 L400.23,99.61 L400.55,100.73 L400.86,101.86 L401.17,103.00 L401.48,104.16 L401.80,105.32 L402.11,106.50 L402.42,107.68 L402.73,108.88 L403.05,110.08 L403.36,111.29 L403.67,112.51 L403.98,113.74 L404.30,114.97 L404.61,116.21 L404.92,117.46 L405.23,118.71 L405.55,119.97 L405.86,121.23 L406.17,122.49 L406.48,123.76 L406.80,125.03 L407.11,126.30 L407.42,127.57 L407.73,128.85 L408.05,130.13 L408.36,131.40 L408.67,132.68 L408.99,133.96 L409.30,135.23 L409.61,136.50 L409.92,137.77 L410.24,139.04 L410.55,140.31 L410.86,141.57 L411.17,142.82 L411.49,144.07 L411.80,145.32 L412.11,146.56 L412.42,147.80 L412.74,149.02 L413.05,150.24 L413.36,151.46 L413.67,152.66 L413.99,153.86 L414.30,155.04 L414.61,156.22 L414.92,157.38 L415.24,158.54 L415.55,159.69 L415.86,160.82 L416.18,161.94 L416.49,163.05 L416.80,164.14 L417.11,165.23 L417.43,166.30 L417.74,167.35 L418.05,168.39 L418.36,169.42 L418.68,170.42 L418.99,171.42 L419.30,172.40 L419.61,173.36 L419.93,174.30 L420.24,175.23 L420.55,176.14 L420.86,177.03 L421.18,177.90 L421.49,178.75 L421.80,179.59 L422.11,180.40 L422.43,181.20 L422.74,181.97 L423.05,182.72 L423.36,183.46 L423.68,184.17 L423.99,184.86 L424.30,185.53 L424.62,186.18 L424.93,186.80 L425.24,187.41 L425.55,187.99 L425.87,188.54 L426.18,189.08 L426.49,189.59 L426.80,190.08 L427.12,190.54 L427.43,190.98 L427.74,191.40 L428.05,191.79 L428.37,192.16 L428.68,192.50 L428.99,192.82 L429.30,193.11 L429.62,193.38 L429.93,193.62 L430.24,193.84 L430.55,194.04 L430.87,194.20 L431.18,194.35 L431.49,194.46 L431.81,194.56 L432.12,194.62 L432.43,194.66 L432.74,194.68 L433.06,194.67 L433.37,194.63 L433.68,194.57 L433.99,194.48 L434.31,194.37 L434.62,194.23 L434.93,194.07 L435.24,193.88 L435.56,193.67 L435.87,193.43 L436.18,193.17 L436.49,192.88 L436.81,192.56 L437.12,192.23 L437.43,191.86 L437.74,191.48 L438.06,191.07 L438.37,190.63 L438.68,190.17 L438.99,189.69 L439.31,189.18 L439.62,188.65 L439.93,188.10 L440.25,187.52 L440.56,186.92 L440.87,186.30 L441.18,185.66 L441.50,184.99 L441.81,184.31 L442.12,183.60 L442.43,182.87 L442.75,182.12 L443.06,181.35 L443.37,180.56 L443.68,179.75 L444.00,178.92 L444.31,178.07 L444.62,177.20 L444.93,176.31 L445.25,175.41 L445.56,174.48 L445.87,173.54 L446.18,172.58 L446.50,171.61 L446.81,170.62 L447.12,169.61 L447.44,168.59 L447.75,167.55 L448.06,166.50 L448.37,165.44 L448.69,164.36 L449.00,163.26 L449.31,162.16 L449.62,161.04 L449.94,159.91 L450.25,158.76 L450.56,157.61 L450.87,156.45 L451.19,155.27 L451.50,154.09 L451.81,152.89 L452.12,151.69 L452.44,150.48 L452.75,149.26 L453.06,148.04 L453.37,146.80 L453.69,145.56 L454.00,144.32 L454.31,143.07 L454.62,141.81 L454.94,140.55 L455.25,139.29 L455.56,138.02 L455.88,136.75 L456.19,135.48 L456.50,134.20 L456.81,132.93 L457.13,131.65 L457.44,130.38 L457.75,129.10 L458.06,127.82 L458.38,126.55 L458.69,125.27 L459.00,124.00 L459.31,122.74 L459.63,121.47 L459.94,120.21 L460.25,118.95 L460.56,117.70 L460.88,116.45 L461.19,115.21 L461.50,113.98 L461.81,112.75 L462.13,111.53 L462.44,110.32 L462.75,109.11 L463.06,107.92 L463.38,106.73 L463.69,105.55 L464.00,104.38 L464.32,103.23 L464.63,102.08 L464.94,100.95 L465.25,99.83 L465.57,98.72 L465.88,97.62 L466.19,96.54 L466.50,95.47 L466.82,94.41 L467.13,93.37 L467.44,92.34 L467.75,91.33 L468.07,90.34 L468.38,89.36 L468.69,88.40 L469.00,87.45 L469.32,86.52 L469.63,85.61 L469.94,84.72 L470.25,83.85 L470.57,82.99 L470.88,82.16 L471.19,81.34 L471.51,80.54 L471.82,79.77 L472.13,79.01 L472.44,78.28 L472.76,77.56 L473.07,76.87 L473.38,76.20 L473.69,75.55 L474.01,74.92 L474.32,74.32 L474.63,73.74 L474.94,73.18 L475.26,72.64 L475.57,72.13 L475.88,71.64 L476.19,71.17 L476.51,70.73 L476.82,70.31 L477.13,69.92 L477.44,69.55 L477.76,69.20 L478.07,68.88 L478.38,68.59 L478.69,68.32 L479.01,68.07 L479.32,67.85 L479.63,67.65 L479.95,67.48 L480.26,67.34 L480.57,67.22 L480.88,67.13 L481.20,67.06 L481.51,67.02 L481.82,67.00 L482.13,67.01 L482.45,67.04 L482.76,67.10 L483.07,67.18 L483.38,67.30 L483.70,67.43 L484.01,67.59 L484.32,67.78 L484.63,67.99 L484.95,68.23 L485.26,68.49 L485.57,68.77 L485.88,69.09 L486.20,69.42 L486.51,69.78 L486.82,70.17 L487.14,70.58 L487.45,71.01 L487.76,71.47 L488.07,71.95 L488.39,72.46 L488.70,72.98 L489.01,73.53 L489.32,74.11 L489.64,74.71 L489.95,75.32 L490.26,75.97 L490.57,76.63 L490.89,77.32 L491.20,78.02 L491.51,78.75 L491.82,79.50 L492.14,80.27 L492.45,81.06 L492.76,81.87 L493.07,82.69 L493.39,83.54 L493.70,84.41 L494.01,85.30 L494.33,86.20 L494.64,87.12 L494.95,88.06 L495.26,89.02 L495.58,89.99 L495.89,90.98 L496.20,91.98 L496.51,93.00 L496.83,94.04 L497.14,95.09 L497.45,96.16 L497.76,97.23 L498.08,98.33 L498.39,99.43 L498.70,100.55 L499.01,101.68 L499.33,102.82 L499.64,103.97 L499.95,105.14 L500.26,106.31 L500.58,107.50 L500.89,108.69 L501.20,109.89 L501.51,111.10 L501.83,112.32 L502.14,113.54 L502.45,114.78 L502.77,116.02 L503.08,117.26 L503.39,118.51 L503.70,119.77 L504.02,121.02 L504.33,122.29 L504.64,123.56 L504.95,124.83 L505.27,126.10 L505.58,127.37 L505.89,128.65 L506.20,129.92 L506.52,131.20 L506.83,132.48 L507.14,133.75 L507.45,135.03 L507.77,136.30 L508.08,137.57 L508.39,138.84 L508.70,140.10 L509.02,141.37 L509.33,142.62 L509.64,143.88 L509.96,145.12 L510.27,146.36 L510.58,147.60 L510.89,148.83 L511.21,150.05 L511.52,151.26 L511.83,152.47 L512.14,153.67 L512.46,154.85 L512.77,156.03 L513.08,157.20 L513.39,158.36 L513.71,159.50 L514.02,160.64 L514.33,161.76 L514.64,162.87 L514.96,163.97 L515.27,165.06 L515.58,166.13 L515.89,167.18 L516.21,168.23 L516.52,169.25 L516.83,170.26 L517.14,171.26 L517.46,172.24 L517.77,173.20 L518.08,174.15 L518.40,175.08 L518.71,175.99 L519.02,176.89 L519.33,177.76 L519.65,178.62 L519.96,179.45 L520.27,180.27 L520.58,181.07 L520.90,181.85 L521.21,182.61 L521.52,183.34 L521.83,184.06 L522.15,184.75 L522.46,185.43 L522.77,186.08 L523.08,186.71 L523.40,187.31 L523.71,187.90 L524.02,188.46 L524.33,189.00 L524.65,189.51 L524.96,190.00 L525.27,190.47 L525.59,190.91 L525.90,191.33 L526.21,191.73 L526.52,192.10 L526.84,192.45 L527.15,192.77 L527.46,193.07 L527.77,193.34 L528.09,193.59 L528.40,193.81 L528.71,194.01 L529.02,194.18 L529.34,194.33 L529.65,194.45 L529.96,194.54 L530.27,194.61 L530.59,194.66 L530.90,194.68 L531.21,194.67 L531.52,194.64 L531.84,194.58 L532.15,194.50 L532.46,194.39 L532.77,194.26 L533.09,194.10 L533.40,193.91" fill="none" stroke="#cc22ff" stroke-width="2" stroke-linejoin="round" stroke-linecap="round"/>
<g fill="#0c90fa"><circle cx="64.50" cy="130.20" r="1.9"/><circle cx="66.06" cy="123.83" r="1.9"/><circle cx="67.63" cy="117.52" r="1.9"/><circle cx="69.19" cy="111.33" r="1.9"/><circle cx="70.75" cy="105.34" r="1.9"/><circle cx="72.31" cy="99.59" r="1.9"/><circle cx="73.88" cy="94.15" r="1.9"/><circle cx="75.44" cy="89.07" r="1.9"/><circle cx="77.00" cy="84.40" r="1.9"/><circle cx="78.57" cy="80.19" r="1.9"/><circle cx="80.13" cy="76.48" r="1.9"/><circle cx="81.69" cy="73.31" r="1.9"/><circle cx="83.26" cy="70.70" r="1.9"/><circle cx="84.82" cy="68.69" r="1.9"/><circle cx="86.38" cy="67.29" r="1.9"/><circle cx="87.94" cy="66.52" r="1.9"/><circle cx="89.51" cy="66.39" r="1.9"/><circle cx="91.07" cy="66.89" r="1.9"/><circle cx="92.63" cy="68.03" r="1.9"/><circle cx="94.20" cy="69.79" r="1.9"/><circle cx="95.76" cy="72.15" r="1.9"/><circle cx="97.32" cy="75.09" r="1.9"/><circle cx="98.89" cy="78.59" r="1.9"/><circle cx="100.45" cy="82.59" r="1.9"/><circle cx="102.01" cy="87.08" r="1.9"/><circle cx="103.58" cy="91.99" r="1.9"/><circle cx="105.14" cy="97.29" r="1.9"/><circle cx="106.70" cy="102.92" r="1.9"/><circle cx="108.26" cy="108.81" r="1.9"/><circle cx="109.83" cy="114.93" r="1.9"/><circle cx="111.39" cy="121.19" r="1.9"/><circle cx="112.95" cy="127.55" r="1.9"/><circle cx="114.52" cy="133.93" r="1.9"/><circle cx="116.08" cy="140.27" r="1.9"/><circle cx="117.64" cy="146.51" r="1.9"/><circle cx="119.21" cy="152.59" r="1.9"/><circle cx="120.77" cy="158.45" r="1.9"/><circle cx="122.33" cy="164.02" r="1.9"/><circle cx="123.89" cy="169.26" r="1.9"/><circle cx="125.46" cy="174.11" r="1.9"/><circle cx="127.02" cy="178.51" r="1.9"/><circle cx="128.58" cy="182.44" r="1.9"/><circle cx="130.15" cy="185.84" r="1.9"/><circle cx="131.71" cy="188.69" r="1.9"/><circle cx="133.27" cy="190.95" r="1.9"/><circle cx="134.84" cy="192.61" r="1.9"/><circle cx="136.40" cy="193.64" r="1.9"/><circle cx="137.96" cy="194.04" r="1.9"/><circle cx="139.52" cy="193.80" r="1.9"/><circle cx="141.09" cy="192.92" r="1.9"/><circle cx="142.65" cy="191.42" r="1.9"/><circle cx="144.21" cy="189.30" r="1.9"/><circle cx="145.78" cy="186.60" r="1.9"/><circle cx="147.34" cy="183.33" r="1.9"/><circle cx="148.90" cy="179.53" r="1.9"/><circle cx="150.47" cy="175.24" r="1.9"/><circle cx="152.03" cy="170.50" r="1.9"/><circle cx="153.59" cy="165.36" r="1.9"/><circle cx="155.15" cy="159.86" r="1.9"/><circle cx="156.72" cy="154.07" r="1.9"/><circle cx="158.28" cy="148.04" r="1.9"/><circle cx="159.84" cy="141.83" r="1.9"/><circle cx="161.41" cy="135.50" r="1.9"/><circle cx="162.97" cy="129.13" r="1.9"/><circle cx="164.53" cy="122.76" r="1.9"/><circle cx="166.09" cy="116.47" r="1.9"/><circle cx="167.66" cy="110.31" r="1.9"/><circle cx="169.22" cy="104.35" r="1.9"/><circle cx="170.78" cy="98.66" r="1.9"/><circle cx="172.35" cy="93.27" r="1.9"/><circle cx="173.91" cy="88.26" r="1.9"/><circle cx="175.47" cy="83.66" r="1.9"/><circle cx="177.04" cy="79.53" r="1.9"/><circle cx="178.60" cy="75.91" r="1.9"/><circle cx="180.16" cy="72.83" r="1.9"/><circle cx="181.73" cy="70.32" r="1.9"/><circle cx="183.29" cy="68.41" r="1.9"/><circle cx="184.85" cy="67.12" r="1.9"/><circle cx="186.41" cy="66.45" r="1.9"/><circle cx="187.98" cy="66.43" r="1.9"/><circle cx="189.54" cy="67.04" r="1.9"/><circle cx="191.10" cy="68.28" r="1.9"/><circle cx="192.67" cy="70.14" r="1.9"/><circle cx="194.23" cy="72.61" r="1.9"/><circle cx="195.79" cy="75.64" r="1.9"/><circle cx="197.36" cy="79.22" r="1.9"/><circle cx="198.92" cy="83.32" r="1.9"/><circle cx="200.48" cy="87.88" r="1.9"/><circle cx="202.04" cy="92.86" r="1.9"/><circle cx="203.61" cy="98.21" r="1.9"/><circle cx="205.17" cy="103.89" r="1.9"/><circle cx="206.73" cy="109.83" r="1.9"/><circle cx="208.30" cy="115.97" r="1.9"/><circle cx="209.86" cy="122.25" r="1.9"/><circle cx="211.42" cy="128.62" r="1.9"/><circle cx="212.99" cy="135.00" r="1.9"/><circle cx="214.55" cy="141.33" r="1.9"/><circle cx="216.11" cy="147.55" r="1.9"/><circle cx="217.67" cy="153.60" r="1.9"/><circle cx="219.24" cy="159.41" r="1.9"/><circle cx="220.80" cy="164.93" r="1.9"/><circle cx="222.36" cy="170.10" r="1.9"/><circle cx="223.93" cy="174.88" r="1.9"/><circle cx="225.49" cy="179.21" r="1.9"/><circle cx="227.05" cy="183.05" r="1.9"/><circle cx="228.62" cy="186.36" r="1.9"/><circle cx="230.18" cy="189.11" r="1.9"/><circle cx="231.74" cy="191.27" r="1.9"/><circle cx="233.30" cy="192.82" r="1.9"/><circle cx="234.87" cy="193.75" r="1.9"/><circle cx="236.43" cy="194.04" r="1.9"/><circle cx="237.99" cy="193.69" r="1.9"/><circle cx="239.56" cy="192.71" r="1.9"/><circle cx="241.12" cy="191.10" r="1.9"/><circle cx="242.68" cy="188.89" r="1.9"/><circle cx="244.25" cy="186.09" r="1.9"/><circle cx="245.81" cy="182.73" r="1.9"/><circle cx="247.37" cy="178.85" r="1.9"/><circle cx="248.93" cy="174.47" r="1.9"/><circle cx="250.50" cy="169.66" r="1.9"/><circle cx="252.06" cy="164.45" r="1.9"/><circle cx="253.62" cy="158.91" r="1.9"/><circle cx="255.19" cy="153.07" r="1.9"/><circle cx="256.75" cy="147.00" r="1.9"/><circle cx="258.31" cy="140.77" r="1.9"/><circle cx="259.88" cy="134.43" r="1.9"/><circle cx="261.44" cy="128.05" r="1.9"/><circle cx="263.00" cy="121.69" r="1.9"/><circle cx="264.56" cy="115.42" r="1.9"/><circle cx="266.13" cy="109.29" r="1.9"/><circle cx="267.69" cy="103.38" r="1.9"/><circle cx="269.25" cy="97.73" r="1.9"/><circle cx="270.82" cy="92.40" r="1.9"/><circle cx="272.38" cy="87.45" r="1.9"/><circle cx="273.94" cy="82.93" r="1.9"/><circle cx="275.50" cy="78.89" r="1.9"/><circle cx="277.07" cy="75.35" r="1.9"/><circle cx="278.63" cy="72.36" r="1.9"/><circle cx="280.19" cy="69.95" r="1.9"/><circle cx="281.76" cy="68.15" r="1.9"/><circle cx="283.32" cy="66.96" r="1.9"/><circle cx="284.88" cy="66.40" r="1.9"/><circle cx="286.45" cy="66.49" r="1.9"/><circle cx="288.01" cy="67.20" r="1.9"/><circle cx="289.57" cy="68.55" r="1.9"/><circle cx="291.13" cy="70.52" r="1.9"/><circle cx="292.70" cy="73.08" r="1.9"/><circle cx="294.26" cy="76.21" r="1.9"/><circle cx="295.82" cy="79.88" r="1.9"/><circle cx="297.39" cy="84.05" r="1.9"/><circle cx="298.95" cy="88.69" r="1.9"/><circle cx="300.51" cy="93.73" r="1.9"/><circle cx="302.08" cy="99.15" r="1.9"/><circle cx="303.64" cy="104.87" r="1.9"/><circle cx="305.20" cy="110.85" r="1.9"/><circle cx="306.76" cy="117.02" r="1.9"/><circle cx="308.33" cy="123.32" r="1.9"/><circle cx="309.89" cy="129.69" r="1.9"/><circle cx="311.45" cy="136.07" r="1.9"/><circle cx="313.02" cy="142.38" r="1.9"/><circle cx="314.58" cy="148.58" r="1.9"/><circle cx="316.14" cy="154.59" r="1.9"/><circle cx="317.71" cy="160.36" r="1.9"/><circle cx="319.27" cy="165.83" r="1.9"/><circle cx="320.83" cy="170.94" r="1.9"/><circle cx="322.40" cy="175.64" r="1.9"/><circle cx="323.96" cy="179.89" r="1.9"/><circle cx="325.52" cy="183.64" r="1.9"/><circle cx="327.08" cy="186.86" r="1.9"/><circle cx="328.65" cy="189.52" r="1.9"/><circle cx="330.21" cy="191.58" r="1.9"/><circle cx="331.77" cy="193.02" r="1.9"/><circle cx="333.34" cy="193.84" r="1.9"/><circle cx="334.90" cy="194.03" r="1.9"/><circle cx="336.46" cy="193.57" r="1.9"/><circle cx="338.03" cy="192.48" r="1.9"/><circle cx="339.59" cy="190.77" r="1.9"/><circle cx="341.15" cy="188.46" r="1.9"/><circle cx="342.71" cy="185.56" r="1.9"/><circle cx="344.28" cy="182.11" r="1.9"/><circle cx="345.84" cy="178.14" r="1.9"/><circle cx="347.40" cy="173.70" r="1.9"/><circle cx="348.97" cy="168.81" r="1.9"/><circle cx="350.53" cy="163.54" r="1.9"/><circle cx="352.09" cy="157.94" r="1.9"/><circle cx="353.66" cy="152.06" r="1.9"/><circle cx="355.22" cy="145.97" r="1.9"/><circle cx="356.78" cy="139.71" r="1.9"/><circle cx="358.34" cy="133.36" r="1.9"/><circle cx="359.91" cy="126.98" r="1.9"/><circle cx="361.47" cy="120.63" r="1.9"/><circle cx="363.03" cy="114.38" r="1.9"/><circle cx="364.60" cy="108.28" r="1.9"/><circle cx="366.16" cy="102.41" r="1.9"/><circle cx="367.72" cy="96.81" r="1.9"/><circle cx="369.29" cy="91.54" r="1.9"/><circle cx="370.85" cy="86.66" r="1.9"/><circle cx="372.41" cy="82.22" r="1.9"/><circle cx="373.97" cy="78.26" r="1.9"/><circle cx="375.54" cy="74.81" r="1.9"/><circle cx="377.10" cy="71.92" r="1.9"/><circle cx="378.66" cy="69.61" r="1.9"/><circle cx="380.23" cy="67.90" r="1.9"/><circle cx="381.79" cy="66.82" r="1.9"/><circle cx="383.35" cy="66.37" r="1.9"/><circle cx="384.92" cy="66.56" r="1.9"/><circle cx="386.48" cy="67.39" r="1.9"/><circle cx="388.04" cy="68.84" r="1.9"/><circle cx="389.60" cy="70.91" r="1.9"/><circle cx="391.17" cy="73.56" r="1.9"/><circle cx="392.73" cy="76.79" r="1.9"/><circle cx="394.29" cy="80.55" r="1.9"/><circle cx="395.86" cy="84.80" r="1.9"/><circle cx="397.42" cy="89.51" r="1.9"/><circle cx="398.98" cy="94.62" r="1.9"/><circle cx="400.55" cy="100.09" r="1.9"/><circle cx="402.11" cy="105.86" r="1.9"/><circle cx="403.67" cy="111.87" r="1.9"/><circle cx="405.23" cy="118.07" r="1.9"/><circle cx="406.80" cy="124.39" r="1.9"/><circle cx="408.36" cy="130.77" r="1.9"/><circle cx="409.92" cy="137.14" r="1.9"/><circle cx="411.49" cy="143.44" r="1.9"/><circle cx="413.05" cy="149.61" r="1.9"/><circle cx="414.61" cy="155.58" r="1.9"/><circle cx="416.18" cy="161.30" r="1.9"/><circle cx="417.74" cy="166.71" r="1.9"/><circle cx="419.30" cy="171.76" r="1.9"/><circle cx="420.86" cy="176.39" r="1.9"/><circle cx="422.43" cy="180.56" r="1.9"/><circle cx="423.99" cy="184.22" r="1.9"/><circle cx="425.55" cy="187.35" r="1.9"/><circle cx="427.12" cy="189.90" r="1.9"/><circle cx="428.68" cy="191.86" r="1.9"/><circle cx="430.24" cy="193.20" r="1.9"/><circle cx="431.81" cy="193.92" r="1.9"/><circle cx="433.37" cy="193.99" r="1.9"/><circle cx="434.93" cy="193.43" r="1.9"/><circle cx="436.49" cy="192.24" r="1.9"/><circle cx="438.06" cy="190.43" r="1.9"/><circle cx="439.62" cy="188.01" r="1.9"/><circle cx="441.18" cy="185.02" r="1.9"/><circle cx="442.75" cy="181.48" r="1.9"/><circle cx="444.31" cy="177.43" r="1.9"/><circle cx="445.87" cy="172.90" r="1.9"/><circle cx="447.44" cy="167.95" r="1.9"/><circle cx="449.00" cy="162.62" r="1.9"/><circle cx="450.56" cy="156.97" r="1.9"/><circle cx="452.12" cy="151.05" r="1.9"/><circle cx="453.69" cy="144.92" r="1.9"/><circle cx="455.25" cy="138.65" r="1.9"/><circle cx="456.81" cy="132.29" r="1.9"/><circle cx="458.38" cy="125.91" r="1.9"/><circle cx="459.94" cy="119.57" r="1.9"/><circle cx="461.50" cy="113.34" r="1.9"/><circle cx="463.06" cy="107.28" r="1.9"/><circle cx="464.63" cy="101.44" r="1.9"/><circle cx="466.19" cy="95.90" r="1.9"/><circle cx="467.75" cy="90.69" r="1.9"/><circle cx="469.32" cy="85.88" r="1.9"/><circle cx="470.88" cy="81.52" r="1.9"/><circle cx="472.44" cy="77.64" r="1.9"/><circle cx="474.01" cy="74.28" r="1.9"/><circle cx="475.57" cy="71.49" r="1.9"/><circle cx="477.13" cy="69.28" r="1.9"/><circle cx="478.69" cy="67.68" r="1.9"/><circle cx="480.26" cy="66.70" r="1.9"/><circle cx="481.82" cy="66.36" r="1.9"/><circle cx="483.38" cy="66.66" r="1.9"/><circle cx="484.95" cy="67.59" r="1.9"/><circle cx="486.51" cy="69.14" r="1.9"/><circle cx="488.07" cy="71.31" r="1.9"/><circle cx="489.64" cy="74.07" r="1.9"/><circle cx="491.20" cy="77.38" r="1.9"/><circle cx="492.76" cy="81.23" r="1.9"/><circle cx="494.33" cy="85.56" r="1.9"/><circle cx="495.89" cy="90.34" r="1.9"/><circle cx="497.45" cy="95.52" r="1.9"/><circle cx="499.01" cy="101.04" r="1.9"/><circle cx="500.58" cy="106.86" r="1.9"/><circle cx="502.14" cy="112.91" r="1.9"/><circle cx="503.70" cy="119.13" r="1.9"/><circle cx="505.27" cy="125.46" r="1.9"/><circle cx="506.83" cy="131.84" r="1.9"/><circle cx="508.39" cy="138.20" r="1.9"/><circle cx="509.96" cy="144.48" r="1.9"/><circle cx="511.52" cy="150.62" r="1.9"/><circle cx="513.08" cy="156.56" r="1.9"/><circle cx="514.64" cy="162.23" r="1.9"/><circle cx="516.21" cy="167.59" r="1.9"/><circle cx="517.77" cy="172.57" r="1.9"/><circle cx="519.33" cy="177.12" r="1.9"/><circle cx="520.90" cy="181.21" r="1.9"/><circle cx="522.46" cy="184.79" r="1.9"/><circle cx="524.02" cy="187.82" r="1.9"/><circle cx="525.59" cy="190.28" r="1.9"/><circle cx="527.15" cy="192.13" r="1.9"/><circle cx="528.71" cy="193.37" r="1.9"/><circle cx="530.27" cy="193.97" r="1.9"/><circle cx="531.84" cy="193.94" r="1.9"/><circle cx="533.40" cy="193.28" r="1.9"/></g>
<g class="tl">
<g transform="translate(62.5,0) scale(1.1,1) translate(-62.5,0)"><text x="62.5" y="17.70" text-anchor="end">2</text><text x="62.5" y="57.60" text-anchor="end">1.5</text><text x="62.5" y="97.50" text-anchor="end">1</text><text x="62.5" y="137.40" text-anchor="end">0.5</text><text x="62.5" y="177.30" text-anchor="end">0</text><text x="62.5" y="217.20" text-anchor="end">-0.5</text></g>
<text x="68.00" y="230.2" text-anchor="middle" transform="translate(68.00,0) scale(1.1,1) translate(-68.00,0)">0</text><text x="146.15" y="230.2" text-anchor="middle" transform="translate(146.15,0) scale(1.1,1) translate(-146.15,0)">5</text><text x="224.30" y="230.2" text-anchor="middle" transform="translate(224.30,0) scale(1.1,1) translate(-224.30,0)">10</text><text x="302.45" y="230.2" text-anchor="middle" transform="translate(302.45,0) scale(1.1,1) translate(-302.45,0)">15</text><text x="380.60" y="230.2" text-anchor="middle" transform="translate(380.60,0) scale(1.1,1) translate(-380.60,0)">20</text><text x="458.75" y="230.2" text-anchor="middle" transform="translate(458.75,0) scale(1.1,1) translate(-458.75,0)">25</text><text x="536.90" y="230.2" text-anchor="middle" transform="translate(536.90,0) scale(1.1,1) translate(-536.90,0)">30</text>
</g>
<g class="al">
<text x="306" y="250.1" text-anchor="middle" textLength="53" lengthAdjust="spacingAndGlyphs">time(s)</text>
<g transform="translate(18.6,0) scale(1.1,1) rotate(-90)">
<text x="-207.6" y="0" textLength="129.4" lengthAdjust="spacingAndGlyphs">Angle tracking of</text>
<text x="-76.2" y="0.6" font-style="italic" font-size="16.8" stroke="#202020" stroke-width="0.3" textLength="9.2" lengthAdjust="spacingAndGlyphs">θ</text>
<text x="-68.3" y="2.3" font-size="9.5" font-weight="bold">1</text>
<text x="-58.8" y="0.9" font-weight="normal" font-size="17.6" textLength="33.2" lengthAdjust="spacingAndGlyphs">(rad)</text>
</g>
</g>
<g class="lg">
<line x1="149" y1="22.3" x2="159.8" y2="22.3" stroke="#ff0000" stroke-width="2" stroke-linecap="round"/>
<text x="163.6" y="25.6" textLength="81.4" lengthAdjust="spacingAndGlyphs">disturbance</text>
<line x1="250.7" y1="22.4" x2="261.4" y2="22.4" stroke="#66ff00" stroke-width="2" stroke-linecap="round"/>
<text x="272.4" y="23.7" font-weight="bold" font-style="italic" font-size="15.5" stroke="#000" stroke-width="0.35" textLength="7.6" lengthAdjust="spacingAndGlyphs">θ</text>
<text x="282.6" y="25.8" font-size="9" stroke="#000" stroke-width="0.25">1</text>
<line x1="287.4" y1="26.6" x2="294" y2="26.6" stroke="#000" stroke-width="0.7"/>
<text x="294.6" y="25.9" font-size="7.8" stroke="#000" stroke-width="0.25" textLength="22.4" lengthAdjust="spacingAndGlyphs">MPC</text>
<line x1="326" y1="22.4" x2="336.4" y2="22.4" stroke="#cc22ff" stroke-width="2" stroke-linecap="round"/>
<text x="344.6" y="23.7" font-weight="bold" font-style="italic" font-size="15.5" stroke="#000" stroke-width="0.35" textLength="7.6" lengthAdjust="spacingAndGlyphs">θ</text>
<text x="354.7" y="25.8" font-size="9" stroke="#000" stroke-width="0.25">1</text>
<line x1="359.4" y1="26.6" x2="366" y2="26.6" stroke="#000" stroke-width="0.7"/>
<text x="366.5" y="25.9" font-size="7.8" stroke="#000" stroke-width="0.25" textLength="20.4" lengthAdjust="spacingAndGlyphs">SMC</text>
<circle cx="405.4" cy="22.4" r="1.9" fill="#0c90fa"/>
<text x="415.4" y="24.2" font-weight="bold" font-style="italic" font-size="15.5" stroke="#000" stroke-width="0.35" textLength="8.2" lengthAdjust="spacingAndGlyphs">θ</text>
<text x="424.9" y="26.6" font-size="10.5" stroke="#000" stroke-width="0.2">1<tspan font-style="italic">d</tspan></text>
</g>
</svg>
</body></html>
